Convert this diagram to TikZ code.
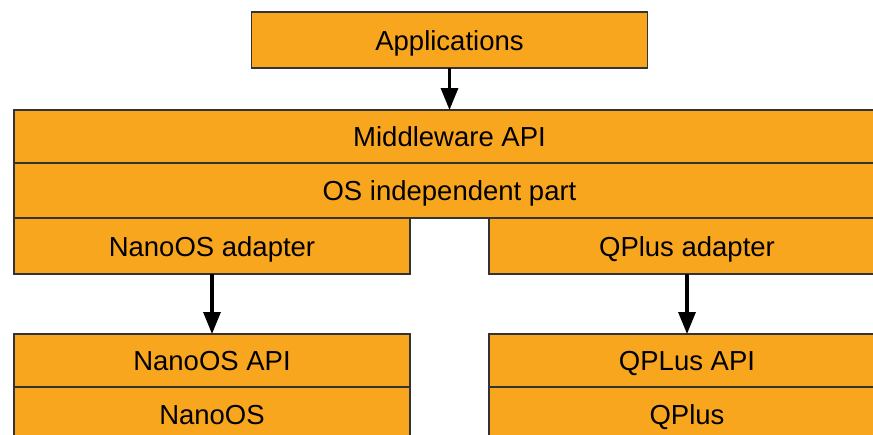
\documentclass[tikz,border=0pt]{standalone}
\usepackage{fontspec}
\setmainfont{Liberation Sans}
\usetikzlibrary{arrows.meta, positioning}
\definecolor{layerfill}{HTML}{F9A61F}
\definecolor{layerline}{HTML}{333333}
\tikzset{layer/.style={rectangle, draw=layerline, fill=layerfill, line width=1.2pt,
    inner sep=0pt, outer sep=0pt, minimum height=55pt, text height=26pt, text depth=6pt,
    font=\fontsize{27.5}{30}\selectfont},
  wide/.style={layer, minimum width=871pt},
  narrow/.style={layer, minimum width=396pt},
  flow/.style={-{Triangle[width=17pt, length=22pt]}, line width=3.2pt, black}}

\begin{document}
\begin{tikzpicture}[x=1pt, y=-1pt]
        \useasboundingbox (0,0) rectangle (873,434);
        \clip (0,0) rectangle (873,434);
        % middleware stack
        \node[wide, minimum height=53pt] (mw) at (449.5,136.5) {Middleware API};
        \node[wide] (osind) [below=0pt of mw] {OS independent part};
        \node[narrow, minimum height=56pt] (nanoad) [below right=0pt and 0pt of osind.south west] {NanoOS adapter};
        \node[narrow, minimum height=56pt] (qad) [below left=0pt and 0pt of osind.south east] {QPlus adapter};
        \node[narrow, minimum height=56pt] (app) [above=42pt of mw] {Applications};

        % operating systems
        \node[narrow, minimum height=53pt] (nanoapi) [below=60pt of nanoad] {NanoOS API};
        \node[narrow] (nanoos) [below=0pt of nanoapi] {NanoOS};
        \node[narrow, minimum height=53pt] (qapi) [below=60pt of qad] {QPLus API};
        \node[narrow] (qplus) [below=0pt of qapi] {QPlus};

        \draw[flow] (app) -- (mw);
        \draw[flow] (nanoad) -- (nanoapi);
        \draw[flow] (qad) -- (qapi);
      \end{tikzpicture}
\end{document}
